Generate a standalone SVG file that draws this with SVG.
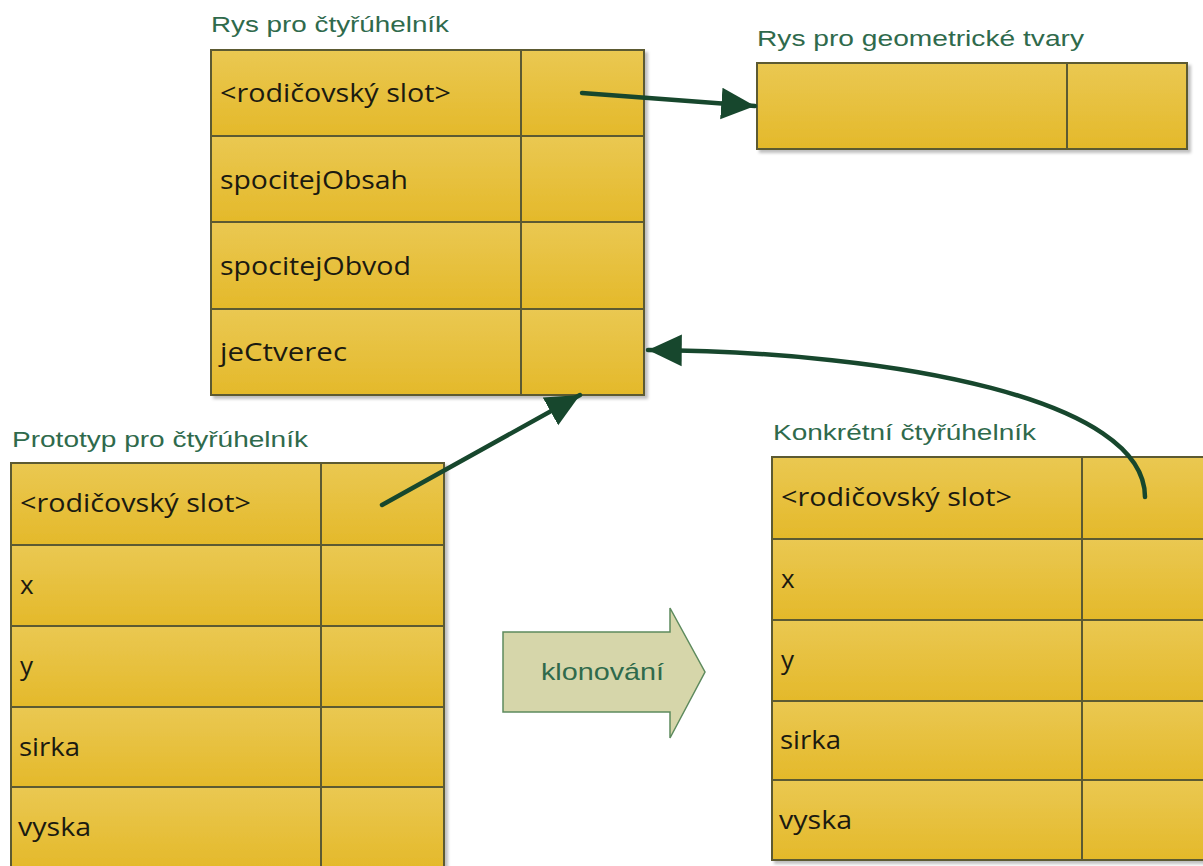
<svg xmlns="http://www.w3.org/2000/svg" width="1203" height="866" viewBox="0 0 1203 866">
  <style>
    .title { font-family: "Liberation Sans", Arial, sans-serif; font-size: 22px; fill: #2f6a4c; }
    .cell { fill: url(#gold); stroke: #5b5a33; stroke-width: 2; }
    .slot { font-family: "Open Sans", "Liberation Sans", sans-serif; font-size: 26px; fill: #1b1a10; }
    .conn { fill: none; stroke: #17472d; stroke-width: 4.5; stroke-linecap: round; }
  </style>
  <defs>
    <linearGradient id="gold" x1="0" y1="0" x2="0" y2="1">
      <stop offset="0" stop-color="#eac852"/>
      <stop offset="1" stop-color="#e4b92a"/>
    </linearGradient>
    <filter id="shadow" x="-5%" y="-5%" width="115%" height="115%">
      <feDropShadow dx="3" dy="3" stdDeviation="1.5" flood-color="#000" flood-opacity="0.25"/>
    </filter>
    <marker id="arrow" viewBox="0 0 10 10" refX="10" refY="5" markerWidth="7.5" markerHeight="7.5" orient="auto">
      <path d="M0,0.3 L10,5 L0,9.7 z" fill="#17472d"/>
    </marker>
  </defs>

  <!-- Rys pro čtyřúhelník -->
  <g id="rys-ctyruhelnik">
    <text class="title" x="211" y="32" textLength="238" lengthAdjust="spacingAndGlyphs">Rys pro čtyřúhelník</text>
    <g filter="url(#shadow)">
      <rect class="cell" x="211" y="50" width="310" height="86"/>
      <rect class="cell" x="521" y="50" width="123" height="86"/>
      <rect class="cell" x="211" y="136" width="310" height="86"/>
      <rect class="cell" x="521" y="136" width="123" height="86"/>
      <rect class="cell" x="211" y="222" width="310" height="87"/>
      <rect class="cell" x="521" y="222" width="123" height="87"/>
      <rect class="cell" x="211" y="309" width="310" height="86"/>
      <rect class="cell" x="521" y="309" width="123" height="86"/>
    </g>
    <text class="slot" x="220" y="102" textLength="231" lengthAdjust="spacingAndGlyphs">&lt;rodičovský slot&gt;</text>
    <text class="slot" x="220" y="189" textLength="188" lengthAdjust="spacingAndGlyphs">spocitejObsah</text>
    <text class="slot" x="220" y="275" textLength="191" lengthAdjust="spacingAndGlyphs">spocitejObvod</text>
    <text class="slot" x="220" y="361" textLength="127" lengthAdjust="spacingAndGlyphs">jeCtverec</text>
  </g>

  <!-- Rys pro geometrické tvary -->
  <g id="rys-geometricke-tvary">
    <text class="title" x="757" y="46" textLength="327" lengthAdjust="spacingAndGlyphs">Rys pro geometrické tvary</text>
    <g filter="url(#shadow)">
      <rect class="cell" x="757" y="63" width="310" height="86"/>
      <rect class="cell" x="1067" y="63" width="120" height="86"/>
    </g>
  </g>

  <!-- Prototyp pro čtyřúhelník -->
  <g id="prototyp">
    <text class="title" x="12" y="447" textLength="296" lengthAdjust="spacingAndGlyphs">Prototyp pro čtyřúhelník</text>
    <g filter="url(#shadow)">
      <rect class="cell" x="11" y="463" width="310" height="82"/>
      <rect class="cell" x="321" y="463" width="123" height="82"/>
      <rect class="cell" x="11" y="545" width="310" height="81"/>
      <rect class="cell" x="321" y="545" width="123" height="81"/>
      <rect class="cell" x="11" y="626" width="310" height="81"/>
      <rect class="cell" x="321" y="626" width="123" height="81"/>
      <rect class="cell" x="11" y="707" width="310" height="80"/>
      <rect class="cell" x="321" y="707" width="123" height="80"/>
      <rect class="cell" x="11" y="787" width="310" height="82"/>
      <rect class="cell" x="321" y="787" width="123" height="82"/>
    </g>
    <text class="slot" x="20" y="512" textLength="231" lengthAdjust="spacingAndGlyphs">&lt;rodičovský slot&gt;</text>
    <text class="slot" x="20" y="594">x</text>
    <text class="slot" x="20" y="675">y</text>
    <text class="slot" x="19" y="756" textLength="61" lengthAdjust="spacingAndGlyphs">sirka</text>
    <text class="slot" x="18" y="836" textLength="73" lengthAdjust="spacingAndGlyphs">vyska</text>
  </g>

  <!-- Konkrétní čtyřúhelník -->
  <g id="konkretni">
    <text class="title" x="773" y="440" textLength="263" lengthAdjust="spacingAndGlyphs">Konkrétní čtyřúhelník</text>
    <g filter="url(#shadow)">
      <rect class="cell" x="772" y="457" width="310" height="82"/>
      <rect class="cell" x="1082" y="457" width="125" height="82"/>
      <rect class="cell" x="772" y="539" width="310" height="81"/>
      <rect class="cell" x="1082" y="539" width="125" height="81"/>
      <rect class="cell" x="772" y="620" width="310" height="81"/>
      <rect class="cell" x="1082" y="620" width="125" height="81"/>
      <rect class="cell" x="772" y="701" width="310" height="79"/>
      <rect class="cell" x="1082" y="701" width="125" height="79"/>
      <rect class="cell" x="772" y="780" width="310" height="80"/>
      <rect class="cell" x="1082" y="780" width="125" height="80"/>
    </g>
    <text class="slot" x="781" y="506" textLength="231" lengthAdjust="spacingAndGlyphs">&lt;rodičovský slot&gt;</text>
    <text class="slot" x="781" y="588">x</text>
    <text class="slot" x="781" y="669">y</text>
    <text class="slot" x="780" y="749" textLength="61" lengthAdjust="spacingAndGlyphs">sirka</text>
    <text class="slot" x="779" y="829" textLength="73" lengthAdjust="spacingAndGlyphs">vyska</text>
  </g>

  <!-- Klonování -->
  <g id="klonovani">
    <path d="M503,632 L670,632 L670,608 L705,672 L670,738 L670,712 L503,712 Z" fill="#d6d6aa" stroke="#5d8a5d" stroke-width="1.5"/>
    <text x="541" y="680" font-family="Liberation Sans, Arial, sans-serif" font-size="24" fill="#2f6a4c" textLength="123" lengthAdjust="spacingAndGlyphs">klonování</text>
  </g>

  <!-- Connectors -->
  <g id="connectors">
    <path class="conn" d="M582,93 L755,106" marker-end="url(#arrow)"/>
    <path class="conn" d="M382,505 L580,395" marker-end="url(#arrow)"/>
    <path class="conn" d="M1145,497 C1145,400 900,352 648,350" marker-end="url(#arrow)"/>
  </g>
</svg>
